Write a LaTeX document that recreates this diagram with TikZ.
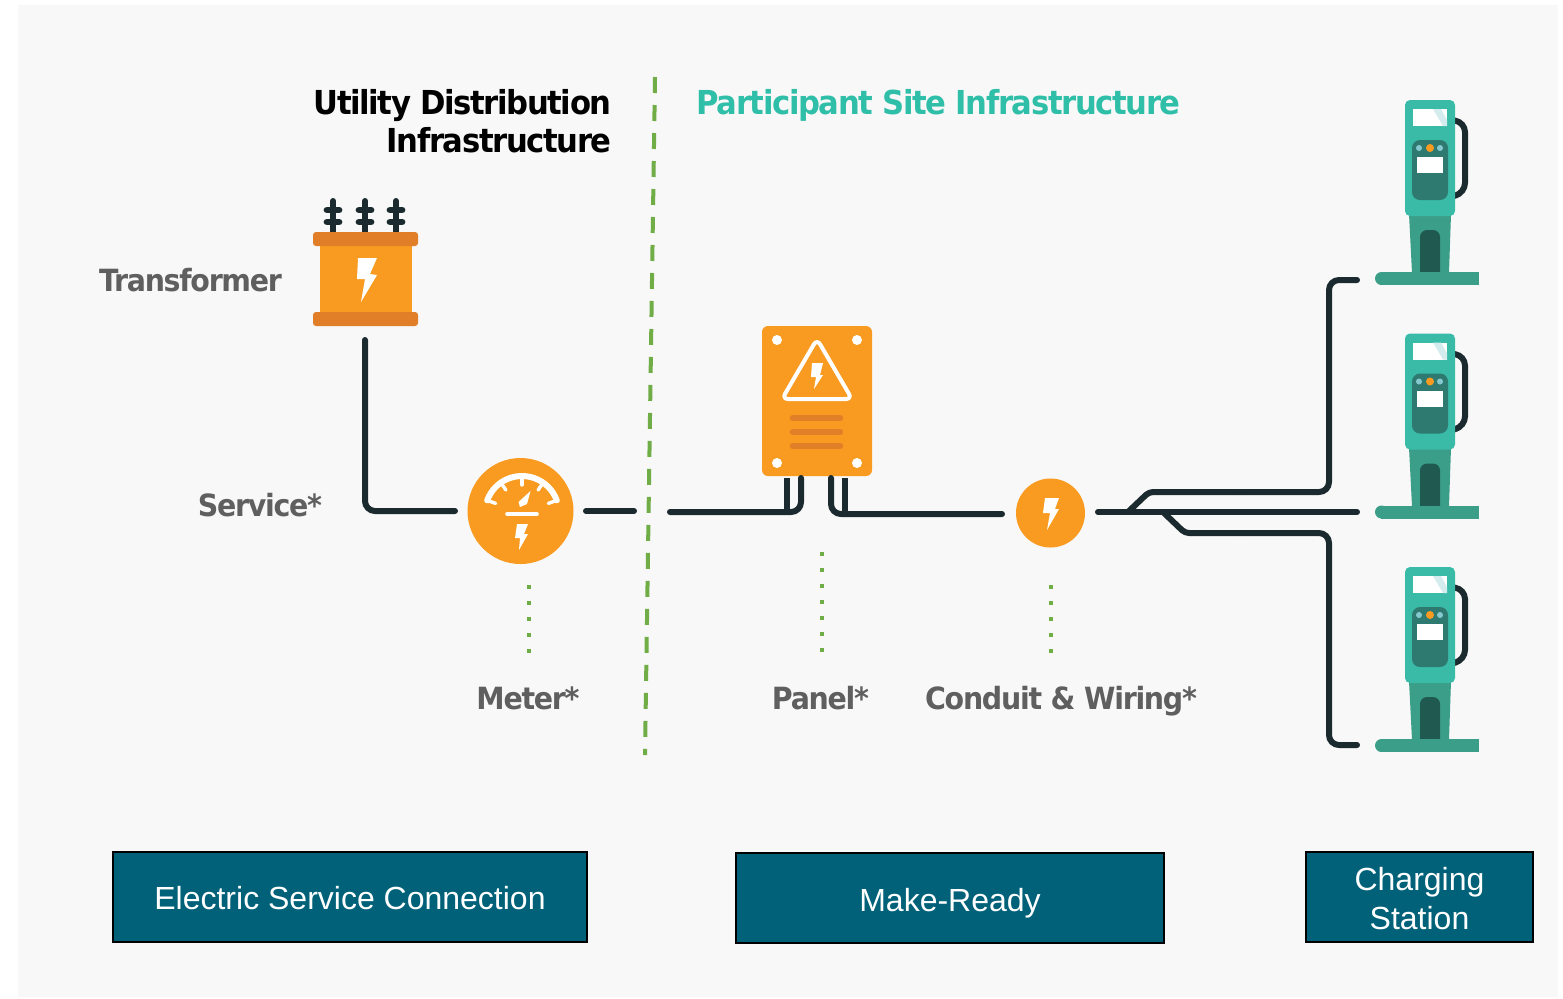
\documentclass[tikz,border=0pt]{standalone}
\usepackage{fontspec}
\setmainfont{Liberation Sans}
\newfontfamily\tb[FakeStretch=0.93,LetterSpace=-4.2]{DejaVu Sans}
\usetikzlibrary{calc}
\definecolor{bgc}{HTML}{F8F8F8}
\definecolor{wirec}{HTML}{1B2A2E}
\definecolor{orangec}{HTML}{F99B20}
\definecolor{orangedk}{HTML}{E07F28}
\definecolor{tealc}{HTML}{3ABBA8}
\definecolor{postc}{HTML}{3B9E88}
\definecolor{doorc}{HTML}{1F5950}
\definecolor{panelc}{HTML}{2F7A70}
\definecolor{dotc}{HTML}{85C9CF}
\definecolor{boxc}{HTML}{006179}
\definecolor{greenc}{HTML}{70AD47}
\definecolor{grayt}{HTML}{5F5F5F}
\definecolor{titlet}{HTML}{2FBFA8}
\tikzset{
  wire/.style={draw=wirec,line width=3pt,line cap=round,line join=round,rounded corners=5pt},
  sitedash/.style={draw=greenc,line width=2pt,dash pattern=on 8pt off 6pt},
  leader/.style={draw=greenc,line width=2pt,dash pattern=on 2pt off 6pt},
  lbl/.style={font=\tb\fontsize{15.3}{19}\selectfont\bfseries,text=grayt,inner sep=0pt},
  ttl/.style={font=\tb\fontsize{16.5}{19}\selectfont\bfseries,inner sep=0pt,align=right},
  bottombox/.style={draw=black,line width=1.4pt,fill=boxc,text=white,align=center,inner sep=0pt,
     font=\fontsize{16}{19.2}\selectfont},
  whitebolt/.style={fill=white,draw=none},
  charger/.pic={
    \draw[wirec,line width=3pt,rounded corners=5pt] (1450,120)--(1465,122)--(1465,193)--(1450,197);
    \fill[postc] (1409,214)--(1451,214)--(1449,273)--(1412,273)--cycle;
    \fill[doorc,rounded corners=3.5pt] (1420,280)--(1420,230)--(1440,230)--(1440,280)--cycle;
    \fill[postc] (1381,272) rectangle (1479,285);
    \fill[postc] (1381.5,278.5) circle[radius=6.5];
    \fill[tealc,rounded corners=2.5pt] (1405,100) rectangle (1455,216);
    \fill[white] (1413,109) rectangle (1447,126);
    \fill[dotc!35] (1433,109)--(1441,109)--(1447,120)--(1447,126)--(1443,126)--cycle;
    \fill[panelc,rounded corners=4pt] (1412,140) rectangle (1448,200);
    \fill[dotc] (1419,148) circle[radius=3];
    \fill[dotc] (1440,148) circle[radius=3];
    \fill[orangec] (1430,148) circle[radius=4];
    \fill[white] (1417,157) rectangle (1443,173);
  }
}
\begin{document}
\begin{tikzpicture}[x=0.5pt,y=-0.5pt]
\useasboundingbox (0,0) rectangle (1563,998);
\fill[white] (0,0) rectangle (1563,998);
\fill[bgc] (18,5) rectangle (1558,997);

% site boundary
\coordinate (bt) at (655,77);
\coordinate (bb) at (645,755);
\draw[sitedash] (bt)--(bb);

% titles
\node[ttl,anchor=north east] (t1) at (612,89.5) {Utility Distribution\\Infrastructure};
\node[ttl,anchor=west,text=titlet] (t2) at (696,105) {Participant Site Infrastructure};

% transformer
\node[inner sep=0pt,minimum width=106*0.5pt,minimum height=94*0.5pt] (trans) at (365.5,279) {};
\foreach \x in {333,365,396}{
  \draw[wirec,line width=3pt,line cap=round] (\x,201)--(\x,233);
  \draw[wirec,line width=3.4pt,line cap=round] (\x-6,210)--(\x+6,210);
  \draw[wirec,line width=3.4pt,line cap=round] (\x-6,222)--(\x+6,222);
}
\fill[orangec] (320,244) rectangle (412,314);
\fill[orangedk,rounded corners=1.5pt] (313,232) rectangle (418,246);
\fill[orangedk,rounded corners=1.5pt] (313,312) rectangle (418,326);
\fill[whitebolt] (358,258)--(377,258)--(370,274)--(377,275)--(361,302)--(365,279)--(357,279)--cycle;

% meter
\node[circle,fill=orangec,inner sep=0pt,minimum size=53pt] (meter) at (520.5,511) {};
\draw[white,line width=3pt,line cap=round] (522,513) ++(-160:37) arc[start angle=-160,end angle=-20,radius=37];
\foreach \a in {-160,-125,-90,-55,-20}{
  \draw[white,line width=1.7pt,line cap=round] ($(522,513)+(\a:37)$)--($(522,513)+(\a:28)$);
}
\fill[white] (530.5,491)--(527,504)--(520,507)--(518.5,502)--cycle;
\draw[white,line width=1.8pt,line cap=round] (507,514)--(537,514);
\fill[whitebolt] (517,524)--(528,524)--(524,534)--(528,534)--(519,550)--(520,538)--(515,538)--cycle;

% panel
\node[rectangle,rounded corners=3pt,fill=orangec,inner sep=0pt,minimum width=55pt,minimum height=75pt] (panel) at (817,401) {};
\foreach \p in {(777,340),(857,340),(777,463),(857,463)} \fill[white] \p circle[radius=5];
\draw[white,line width=2pt,line join=round,rounded corners=3pt] (817,339)--(852,399)--(782,399)--cycle;
\fill[whitebolt] (812,363)--(823,363)--(820,375)--(823,375)--(814,389)--(816,377)--(811,377)--cycle;
\foreach \y in {418,432,446}
  \draw[orangedk,line width=3.2pt,line cap=round] (793,\y)--(840,\y);

% conduit node
\node[circle,fill=orangec,inner sep=0pt,minimum size=34.5pt] (cond) at (1050.5,513) {};
\fill[whitebolt] (1045,498)--(1059,498)--(1055,509)--(1059,509)--(1047,530)--(1050,513)--(1043,513)--cycle;

% chargers
\pic at (0,0) {charger};
\pic at (0,233.5) {charger};
\pic at (0,467) {charger};

% wire anchors
\coordinate (a1) at (365,340);
\coordinate (a2) at (365,511);
\coordinate (a3) at (455,511);
\coordinate (b1) at (586,511);
\coordinate (b2) at (634,511);
\coordinate (b3) at (670,512);
\coordinate (d1) at (801,478);
\coordinate (d2) at (787,478);
\coordinate (d3) at (831,478);
\coordinate (d4) at (845,478);
\coordinate (e1) at (1002,514);
\coordinate (f1) at (1098,512);
\coordinate (f2) at (1357,512);
\coordinate (g1) at (1129,511);
\coordinate (g2) at (1149,492);
\coordinate (gm) at (1240,492);
\coordinate (g3) at (1329,492);
\coordinate (g4) at (1329,280);
\coordinate (g5) at (1357,280);
\coordinate (h1) at (1164,513);
\coordinate (h2) at (1185,533);
\coordinate (hm) at (1240,533);
\coordinate (h3) at (1329,533);
\coordinate (h4) at (1329,745);
\coordinate (h5) at (1357,745);

\draw[wire] (a1)--(a2)--(a3);
\draw[wire] (b1)--(b2);
\draw[wire] (b3)--(d1 |- b3)--(d1);
\draw[wire,line cap=butt] (d2)--(d2 |- b3);
\draw[wire] (d3)--(d3 |- e1)--(e1);
\draw[wire,line cap=butt] (d4)--(d4 |- e1);
\draw[wire] (f1)--(f2);
\draw[wire,rounded corners=2pt] (g1)--(g2)--(gm);
\draw[wire] (gm)--(g3)--(g4)--(g5);
\draw[wire,rounded corners=2pt] (h1)--(h2)--(hm);
\draw[wire] (hm)--(h3)--(h4)--(h5);

% leaders
\coordinate (l1a) at (529,585); \coordinate (l1b) at (529,655);
\coordinate (l2a) at (822,552); \coordinate (l2b) at (822,655);
\coordinate (l3a) at (1051,585); \coordinate (l3b) at (1051,655);
\draw[leader] (l1a)--(l1b);
\draw[leader] (l2a)--(l2b);
\draw[leader] (l3a)--(l3b);

% labels
\node[lbl,anchor=center] (ltr) at (190.5,280) {Transformer};
\node[lbl,anchor=center] (lsv) at (260,505) {Service*};
\node[lbl,anchor=center] (lme) at (528,698) {Meter*};
\node[lbl,anchor=center] (lpa) at (820.5,698) {Panel*};
\node[lbl,anchor=center] (lcw) at (1061,701) {Conduit \& Wiring*};

% boxes
\node[bottombox,minimum width=237pt,minimum height=45pt] (b_esc) at (350,897) {\raisebox{-6.25pt}[0pt][0pt]{Electric Service Connection}};
\node[bottombox,minimum width=214pt,minimum height=45pt] (b_mr) at (950,898) {\raisebox{-6.75pt}[0pt][0pt]{Make-Ready}};
\node[bottombox,minimum width=113.5pt,minimum height=45pt] (b_cs) at (1419.5,897) {\rule{0pt}{13pt}Charging\\Station};
\end{tikzpicture}
\end{document}
